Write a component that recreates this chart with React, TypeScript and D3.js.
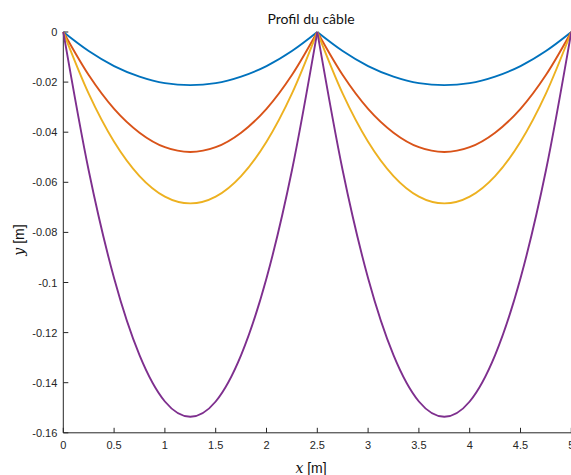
import React from "react";
import * as d3 from "d3";

const xSamples = [0, 0.25, 0.5, 0.75, 1, 1.25, 1.5, 1.75, 2, 2.25, 2.5, 2.75, 3, 3.25, 3.5, 3.75, 4, 4.25, 4.5, 4.75, 5];
const seriesBlue = [0, -0.0076, -0.0136, -0.0178, -0.0204, -0.0212, -0.0204, -0.0178, -0.0136, -0.0076, 0, -0.0076, -0.0136, -0.0178, -0.0204, -0.0212, -0.0204, -0.0178, -0.0136, -0.0076, 0];
const seriesOrange = [0, -0.0172, -0.0307, -0.0402, -0.046, -0.0479, -0.046, -0.0402, -0.0307, -0.0172, 0, -0.0172, -0.0307, -0.0402, -0.046, -0.0479, -0.046, -0.0402, -0.0307, -0.0172, 0];
const seriesYellow = [0, -0.0246, -0.0438, -0.0575, -0.0657, -0.0684, -0.0657, -0.0575, -0.0438, -0.0246, 0, -0.0246, -0.0438, -0.0575, -0.0657, -0.0684, -0.0657, -0.0575, -0.0438, -0.0246, 0];
const seriesPurple = [0, -0.0553, -0.0983, -0.129, -0.1475, -0.1536, -0.1475, -0.129, -0.0983, -0.0553, 0, -0.0553, -0.0983, -0.129, -0.1475, -0.1536, -0.1475, -0.129, -0.0983, -0.0553, 0];
const seriesList = [seriesBlue, seriesOrange, seriesYellow, seriesPurple];
const colors = ["#0072BD", "#D95319", "#EDB120", "#7E2F8E"];
const spanBreaks = [2.5];
const xTicks = [0, 0.5, 1, 1.5, 2, 2.5, 3, 3.5, 4, 4.5, 5];
const xTickLabels = ["0", "0.5", "1", "1.5", "2", "2.5", "3", "3.5", "4", "4.5", "5"];
const yTicks = [0, -0.02, -0.04, -0.06, -0.08, -0.1, -0.12, -0.14, -0.16];
const yTickLabels = ["0", "-0.02", "-0.04", "-0.06", "-0.08", "-0.1", "-0.12", "-0.14", "-0.16"];
const titleText = "Profil du câble";

const W = 571;
const H = 475;
const left = 63.3;
const right = 571.3;
const top = 32;
const bottom = 432.8;
const axisColor = "#262626";
const tickFont = "'Liberation Sans', Arial, Helvetica, sans-serif";

export default function App() {
  const x = d3.scaleLinear().domain([0, 5]).range([left, right]);
  const y = d3.scaleLinear().domain([-0.16, 0]).range([bottom, top]);
  const line = d3
    .line<[number, number]>()
    .x((d) => x(d[0]))
    .y((d) => y(d[1]))
    .curve(d3.curveMonotoneX);

  const paths: JSX.Element[] = [];
  seriesList.forEach((vals, si) => {
    const pts: [number, number][] = xSamples.map((xv, i) => [xv, vals[i]]);
    const segs: [number, number][][] = [];
    let cur: [number, number][] = [];
    pts.forEach((p) => {
      cur.push(p);
      if (spanBreaks.includes(p[0])) {
        segs.push(cur);
        cur = [p];
      }
    });
    segs.push(cur);
    segs.forEach((s, k) => {
      paths.push(
        <path
          key={`${si}-${k}`}
          d={line(s) || ""}
          fill="none"
          stroke={colors[si]}
          strokeWidth={1.9}
          strokeLinejoin="round"
        />
      );
    });
  });

  return (
    <div style={{ position: "fixed", left: 0, top: 0 }}>
      <svg width={W} height={H} style={{ display: "block", background: "#fff" }}>
        <rect x={0} y={0} width={W} height={H} fill="#fff" />
        {/* axes */}
        <line x1={left} x2={right} y1={bottom} y2={bottom} stroke={axisColor} strokeWidth={1} />
        <line x1={left} x2={left} y1={top} y2={bottom} stroke={axisColor} strokeWidth={1} />
        {xTicks.map((t, i) => (
          <g key={`xt${i}`}>
            <line x1={x(t)} x2={x(t)} y1={bottom} y2={bottom - 5} stroke={axisColor} strokeWidth={1} />
            <text
              x={x(t)}
              y={bottom + 16}
              textAnchor="middle"
              fontFamily={tickFont}
              fontSize={11}
              fill={axisColor}
            >
              {xTickLabels[i]}
            </text>
          </g>
        ))}
        {yTicks.map((t, i) => (
          <g key={`yt${i}`}>
            <line x1={left} x2={left + 5} y1={y(t)} y2={y(t)} stroke={axisColor} strokeWidth={1} />
            <text
              x={left - 6}
              y={y(t) + 4}
              textAnchor="end"
              fontFamily={tickFont}
              fontSize={11}
              fill={axisColor}
            >
              {yTickLabels[i]}
            </text>
          </g>
        ))}
        {paths}
        <text
          x={311}
          y={24}
          textAnchor="middle"
          fontFamily="Lato, 'DejaVu Sans', sans-serif"
          fontSize={14}
          fill="#111"
        >
          {titleText}
        </text>
        <text x={311} y={473} textAnchor="middle" fontSize={14} fill="#111" fontFamily={tickFont}>
          <tspan fontFamily="'DejaVu Serif', 'Liberation Serif', serif" fontStyle="italic">x</tspan>
          <tspan> [m]</tspan>
        </text>
        <text
          transform="translate(24,240) rotate(-90)"
          textAnchor="middle"
          fontSize={14}
          fill="#111"
          fontFamily={tickFont}
        >
          <tspan fontFamily="'DejaVu Serif', 'Liberation Serif', serif" fontStyle="italic">y</tspan>
          <tspan> [m]</tspan>
        </text>
      </svg>
    </div>
  );
}
